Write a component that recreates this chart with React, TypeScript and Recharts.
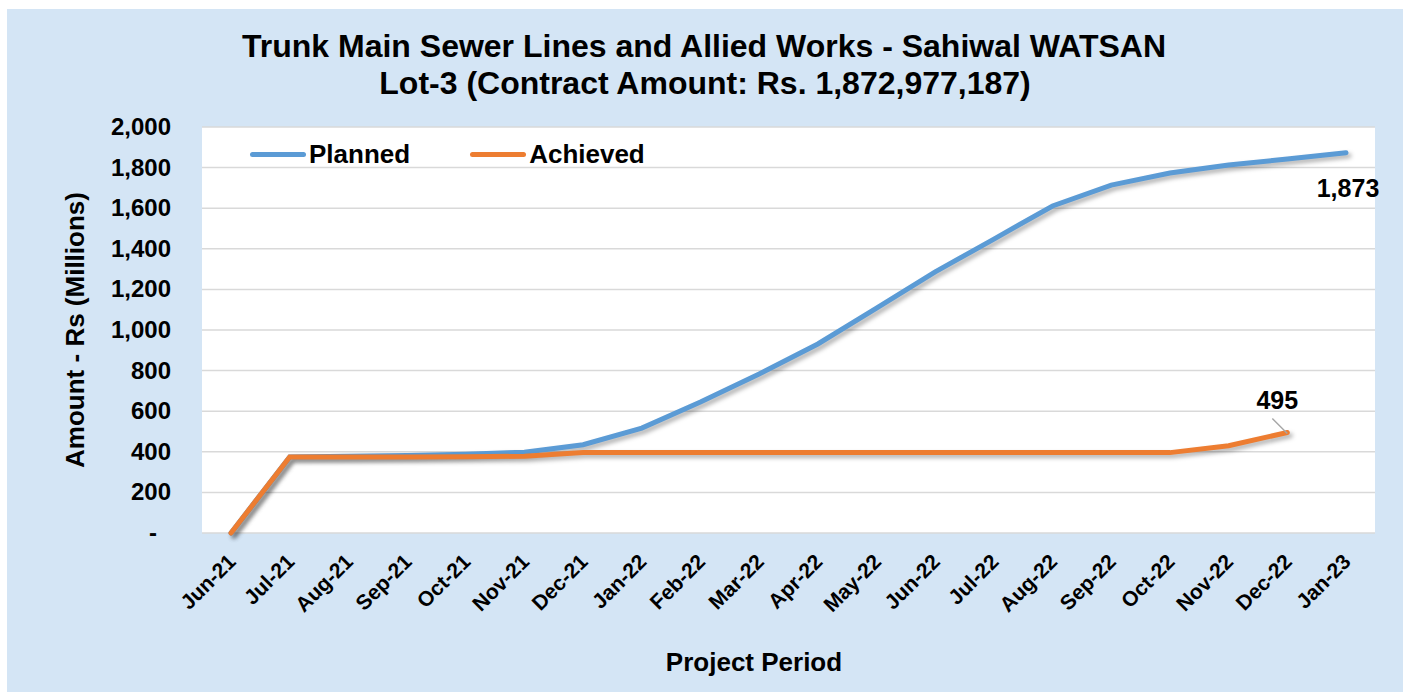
import React from "react";
import { LineChart, Line, XAxis, YAxis, CartesianGrid, Label } from "recharts";

const months = [
  "Jun-21", "Jul-21", "Aug-21", "Sep-21", "Oct-21", "Nov-21", "Dec-21",
  "Jan-22", "Feb-22", "Mar-22", "Apr-22", "May-22", "Jun-22", "Jul-22",
  "Aug-22", "Sep-22", "Oct-22", "Nov-22", "Dec-22", "Jan-23",
];
const planned = [
  0, 375, 378, 382, 388, 398, 435, 517, 645, 783, 931, 1108, 1286, 1448,
  1611, 1714, 1773, 1813, 1842, 1872.977,
];
const achieved = [
  0, 375, 375, 375, 376, 378, 396, 396, 396, 396, 396, 396, 396, 396,
  396, 396, 396, 430, 495, null,
];
const yTicks = [0, 200, 400, 600, 800, 1000, 1200, 1400, 1600, 1800, 2000];

const data = months.map((m, i) => ({ month: m, planned: planned[i], achieved: achieved[i] }));

const FONT = "'Liberation Sans', Arial, sans-serif";
const BLUE = "#5b9bd5";
const ORANGE = "#ed7d31";

const XTick = ({ x, y, payload }: any) => (
  <g transform={`translate(${x + 6},${y + 22})`}>
    <text x={0} y={0} textAnchor="end" transform="rotate(-45)" fontFamily={FONT} fontWeight="bold" fontSize={21} fill="#000">
      {payload.value}
    </text>
  </g>
);

const YTick = ({ x, y, payload }: any) => (
  <text x={payload.value === 0 ? x - 14 : x} y={y} dy={8} textAnchor="end" fontFamily={FONT} fontWeight="bold" fontSize={24} fill="#000">
    {payload.value === 0 ? "-" : payload.value.toLocaleString("en-US")}
  </text>
);

const plannedLabel = (p: any) => {
  if (p.index !== months.length - 1) return <g />;
  return (
    <text x={p.x + 2} y={p.y + 44} textAnchor="middle" fontFamily={FONT} fontWeight="bold" fontSize={25} fill="#000">
      {Math.round(p.value).toLocaleString("en-US")}
    </text>
  );
};

const achievedLabel = (p: any) => {
  if (p.index !== months.length - 2) return <g />;
  return (
    <g>
      <line x1={p.x - 15} y1={p.y - 14} x2={p.x} y2={p.y + 1} stroke="#a6a6a6" strokeWidth={1.5} />
      <text x={p.x - 10} y={p.y - 24} textAnchor="middle" fontFamily={FONT} fontWeight="bold" fontSize={25} fill="#000">
        {Math.round(p.value)}
      </text>
    </g>
  );
};

export default function App() {
  return (
    <div style={{ position: "fixed", left: 0, top: 0, width: 1403, height: 692, background: "#fff" }}>
      <style>{`.recharts-line-curve { filter: drop-shadow(3px 3px 2px rgba(0,0,0,0.3)); }`}</style>
      <div style={{ position: "absolute", left: 7, top: 9, width: 1396, height: 683, background: "#d4e5f5" }}>
        <LineChart width={1396} height={683} data={data} margin={{ top: 118, right: 28, bottom: 49, left: 0 }}>
          <CartesianGrid vertical={false} fill="#ffffff" stroke="#d9d9d9" strokeWidth={1.5} />
          <XAxis
            dataKey="month"
            height={110}
            tickLine={false}
            axisLine={false}
            interval={0}
            padding={{ left: 29, right: 29 }}
            tick={<XTick />}
          >
            <Label
              content={() => (
                <text x={747} y={662} textAnchor="middle" fontFamily={FONT} fontWeight="bold" fontSize={26} fill="#000">
                  Project Period
                </text>
              )}
            />
          </XAxis>
          <YAxis
            width={195}
            domain={[0, 2000]}
            ticks={yTicks}
            tickLine={false}
            axisLine={false}
            tickMargin={25}
            tick={<YTick />}
          >
            <Label
              content={() => (
                <text x={68} y={321} textAnchor="middle" dominantBaseline="central" transform="rotate(-90 68 321)" fontFamily={FONT} fontWeight="bold" fontSize={26} fill="#000">
                  Amount - Rs (Millions)
                </text>
              )}
            />
          </YAxis>
          <Line type="linear" dataKey="planned" stroke={BLUE} strokeWidth={5} dot={false} strokeLinecap="round" isAnimationActive={false} label={plannedLabel} />
          <Line type="linear" dataKey="achieved" stroke={ORANGE} strokeWidth={5} dot={false} strokeLinecap="round" isAnimationActive={false} label={achievedLabel} />
        </LineChart>
        <div style={{ position: "absolute", left: 0, top: 19, width: 1396, textAlign: "center", fontFamily: FONT, fontWeight: "bold", fontSize: 32, lineHeight: "37px", color: "#000" }}>
          <div style={{ marginLeft: -2 }}>Trunk Main Sewer Lines and Allied Works - Sahiwal WATSAN</div>
          <div>Lot-3 (Contract Amount: Rs. 1,872,977,187)</div>
        </div>
        <div style={{ position: "absolute", left: 243, top: 130, display: "flex", alignItems: "center", fontFamily: FONT, fontWeight: "bold", fontSize: 26, color: "#000" }}>
          <span style={{ display: "inline-block", width: 56, height: 5, borderRadius: 3, background: BLUE, marginRight: 3 }} />
          <span style={{ marginRight: 60 }}>Planned</span>
          <span style={{ display: "inline-block", width: 56, height: 5, borderRadius: 3, background: ORANGE, marginRight: 3 }} />
          <span>Achieved</span>
        </div>
      </div>
    </div>
  );
}
